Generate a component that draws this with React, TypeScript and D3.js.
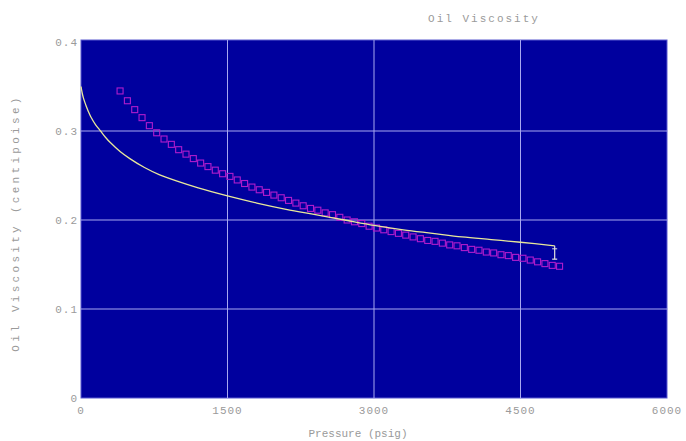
import React, { useEffect, useRef } from 'react';
import * as d3 from 'd3';

// measured (yellow curve) - pressure psig / viscosity cp
const linePressure = [0, 10, 25, 50, 75, 100, 150, 200, 250, 300, 400, 500, 650, 800, 1000, 1200, 1500, 1800, 2100, 2400, 2700, 3000, 3300, 3600, 3900, 4200, 4500, 4850];
const lineVisc = [0.35, 0.344, 0.337, 0.329, 0.322, 0.316, 0.307, 0.3, 0.293, 0.287, 0.277, 0.269, 0.259, 0.251, 0.243, 0.236, 0.227, 0.219, 0.212, 0.206, 0.2, 0.194, 0.189, 0.185, 0.181, 0.178, 0.175, 0.171];

// correlation points (magenta markers)
const pointPressure = [400, 475, 550, 625, 700, 775, 850, 925, 1000, 1075, 1150, 1225, 1300, 1375, 1450, 1525, 1600, 1675, 1750, 1825, 1900, 1975, 2050, 2125, 2200, 2275, 2350, 2425, 2500, 2575, 2650, 2725, 2800, 2875, 2950, 3025, 3100, 3175, 3250, 3325, 3400, 3475, 3550, 3625, 3700, 3775, 3850, 3925, 4000, 4075, 4150, 4225, 4300, 4375, 4450, 4525, 4600, 4675, 4750, 4825, 4900];
const pointVisc = [0.345, 0.334, 0.324, 0.315, 0.306, 0.298, 0.291, 0.285, 0.279, 0.274, 0.269, 0.264, 0.26, 0.256, 0.252, 0.249, 0.245, 0.241, 0.237, 0.234, 0.231, 0.228, 0.225, 0.222, 0.219, 0.216, 0.213, 0.211, 0.208, 0.206, 0.203, 0.2, 0.198, 0.196, 0.193, 0.191, 0.189, 0.187, 0.185, 0.183, 0.181, 0.179, 0.177, 0.176, 0.174, 0.172, 0.171, 0.169, 0.167, 0.166, 0.164, 0.163, 0.161, 0.16, 0.158, 0.157, 0.155, 0.153, 0.151, 0.149, 0.148];

// error bar at end of the measured curve
const errPressure = 4850;
const errLow = 0.156;
const errHigh = 0.171;

const xTicks = [0, 1500, 3000, 4500, 6000];
const yTicks = [0, 0.1, 0.2, 0.3, 0.4];

const App = () => {
  const ref = useRef<SVGSVGElement>(null);

  useEffect(() => {
    const svg = d3.select(ref.current);
    svg.selectAll('*').remove();

    const left = 81, right = 667, top = 40, bottom = 398;
    const x = d3.scaleLinear().domain([0, 6000]).range([left, right]);
    const y = d3.scaleLinear().domain([0, 0.4]).range([bottom, top + 2]);
    const font = '"Liberation Mono", "DejaVu Sans Mono", monospace';
    const grey = '#9a9a9a';

    svg.append('rect')
      .attr('x', left).attr('y', top)
      .attr('width', right - left).attr('height', bottom - top)
      .attr('fill', '#00009e')
      .attr('stroke', '#5a5ad0').attr('stroke-width', 1);

    // grid
    svg.append('g').selectAll('line')
      .data(xTicks.slice(1, -1))
      .enter().append('line')
      .attr('x1', d => x(d)).attr('x2', d => x(d))
      .attr('y1', top).attr('y2', bottom)
      .attr('stroke', '#a8a8f0').attr('stroke-width', 1);
    svg.append('g').selectAll('line')
      .data(yTicks.slice(1, -1))
      .enter().append('line')
      .attr('x1', left).attr('x2', right)
      .attr('y1', d => y(d)).attr('y2', d => y(d))
      .attr('stroke', '#a8a8f0').attr('stroke-width', 1);

    // tick labels
    svg.append('g').selectAll('text')
      .data(xTicks)
      .enter().append('text')
      .attr('x', d => x(d)).attr('y', 414)
      .attr('text-anchor', 'middle')
      .style('font-family', font).style('font-size', '11px')
      .style('letter-spacing', '1px')
      .attr('fill', grey)
      .text(d => String(d));
    svg.append('g').selectAll('text')
      .data(yTicks)
      .enter().append('text')
      .attr('x', 78).attr('y', d => y(d) + 4)
      .attr('text-anchor', 'end')
      .style('font-family', font).style('font-size', '11px')
      .style('letter-spacing', '1px')
      .attr('fill', grey)
      .text(d => (d === 0 ? '0' : d.toFixed(1)));

    // markers
    const pts = pointPressure.map((p, i) => [p, pointVisc[i]] as [number, number]);
    svg.append('g').selectAll('rect')
      .data(pts)
      .enter().append('rect')
      .attr('x', d => x(d[0]) - 3).attr('y', d => y(d[1]) - 3)
      .attr('width', 6).attr('height', 6)
      .attr('fill', 'none')
      .attr('stroke', '#b01ccc').attr('stroke-width', 1.1);

    // yellow curve
    const linePts = linePressure.map((p, i) => [p, lineVisc[i]] as [number, number]);
    svg.append('path')
      .datum(linePts)
      .attr('d', d3.line<[number, number]>().x(d => x(d[0])).y(d => y(d[1])).curve(d3.curveCatmullRom))
      .attr('fill', 'none')
      .attr('stroke', '#e8e89a').attr('stroke-width', 1.3);

    // error bar
    const ex = x(errPressure);
    svg.append('line')
      .attr('x1', ex).attr('x2', ex).attr('y1', y(errHigh)).attr('y2', y(errLow))
      .attr('stroke', '#e0e0e0').attr('stroke-width', 1.2);
    svg.append('line')
      .attr('x1', ex - 2.5).attr('x2', ex + 2.5).attr('y1', y(errLow)).attr('y2', y(errLow))
      .attr('stroke', '#e0e0e0').attr('stroke-width', 1.2);
    svg.append('line')
      .attr('x1', ex - 2.5).attr('x2', ex + 2.5).attr('y1', y(errHigh) + 3).attr('y2', y(errHigh) + 3)
      .attr('stroke', '#e0e0e0').attr('stroke-width', 1);

    // titles
    svg.append('text')
      .attr('x', 484).attr('y', 22)
      .attr('text-anchor', 'middle')
      .style('font-family', font).style('font-size', '11px')
      .style('letter-spacing', '2px')
      .attr('fill', grey)
      .text('Oil Viscosity');
    svg.append('text')
      .attr('x', 358).attr('y', 437)
      .attr('text-anchor', 'middle')
      .style('font-family', font).style('font-size', '11px')
      .style('letter-spacing', '0px')
      .attr('fill', grey)
      .text('Pressure (psig)');
    svg.append('text')
      .attr('transform', 'translate(19,223) rotate(-90)')
      .attr('text-anchor', 'middle')
      .style('font-family', font).style('font-size', '11px')
      .style('letter-spacing', '3.3px')
      .attr('fill', grey)
      .text('Oil Viscosity (centipoise)');
  }, []);

  return (
    <svg
      ref={ref}
      width={686}
      height={441}
      style={{ position: 'absolute', left: 0, top: 0, background: '#fff' }}
    />
  );
};

export default App;
